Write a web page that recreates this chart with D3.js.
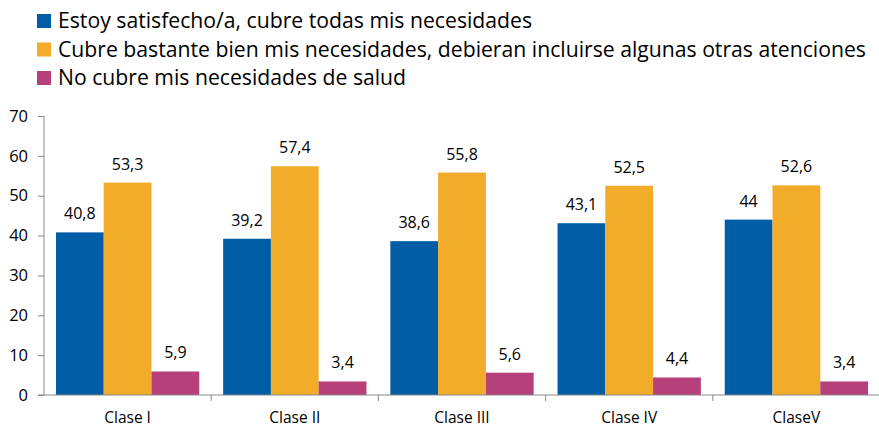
<!DOCTYPE html>
<html><head><meta charset="utf-8">
<script src="https://cdn.jsdelivr.net/npm/d3@7"></script>
<style>body{margin:0;background:#fff}svg{display:block}text{font-family:"Open Sans",sans-serif;fill:#000}</style>
</head><body><svg id="c" width="879" height="427"></svg>
<script>
const categories = ["Clase I","Clase II","Clase III","Clase IV","ClaseV"];
const seriesNames = ["Estoy satisfecho/a, cubre todas mis necesidades","Cubre bastante bien mis necesidades, debieran incluirse algunas otras atenciones","No cubre mis necesidades de salud"];
const satisfecho = [40.8,39.2,38.6,43.1,44];
const bastante = [53.3,57.4,55.8,52.5,52.6];
const noCubre = [5.9,3.4,5.6,4.4,3.4];
const yTicks = [0,10,20,30,40,50,60,70];
const colors = ["#005DA6","#F2AC29","#B6407A"];
const series = [satisfecho,bastante,noCubre];

const svg = d3.select("#c");
const x0 = d3.scaleBand().domain(categories).range([44,880]).paddingInner(0).paddingOuter(0);
const y = d3.scaleLinear().domain([0,70]).range([395,116]);
const x1 = d3.scaleBand().domain([0,1,2]).range([0,x0.bandwidth()]).paddingOuter(0.25).paddingInner(0);

// legend
const lg = svg.append("g");
seriesNames.forEach((n,i)=>{
  const yy = 21 + i*28.5;
  lg.append("rect").attr("x",37).attr("y",yy-7).attr("width",14).attr("height",14).attr("fill",colors[i]);
  lg.append("text").attr("x",58).attr("y",yy).attr("dy","0.35em").style("font-size","21.2px").text(n);
});

// bars
categories.forEach((c,ci)=>{
  series.forEach((s,si)=>{
    const bx = x0(c)+x1(si);
    svg.append("rect").attr("x",bx).attr("y",y(s[ci])).attr("width",x1.bandwidth()).attr("height",y(0)-y(s[ci])).attr("fill",colors[si]);
    svg.append("text").attr("x",bx+x1.bandwidth()/2).attr("y",y(s[ci])-13).attr("text-anchor","middle").style("font-size","16px").text(String(s[ci]).replace(".",","));
  });
});

// y axis
const ya = svg.append("g").attr("transform","translate(44,0)").call(d3.axisLeft(y).tickValues(yTicks).tickSize(6).tickPadding(10).tickFormat(d3.format("d")));
ya.select(".domain").attr("stroke","#888").attr("d","M0,116V395");
ya.selectAll(".tick line").attr("stroke","#888");
ya.selectAll(".tick text").style("font-size","16.5px").attr("fill","#000");

// x axis
const xa = svg.append("g").attr("transform","translate(0,395)");
xa.append("line").attr("x1",38).attr("x2",880).attr("stroke","#888");
categories.forEach((c,i)=>{
  const tx = x0(c)+x0.bandwidth();
  if(i<categories.length-1) xa.append("line").attr("x1",tx).attr("x2",tx).attr("y1",0).attr("y2",6).attr("stroke","#888");
  xa.append("text").attr("x",x0(c)+x0.bandwidth()/2).attr("y",23).attr("dy","0.35em").attr("text-anchor","middle").style("font-size","15.5px").text(c);
});
</script></body></html>
